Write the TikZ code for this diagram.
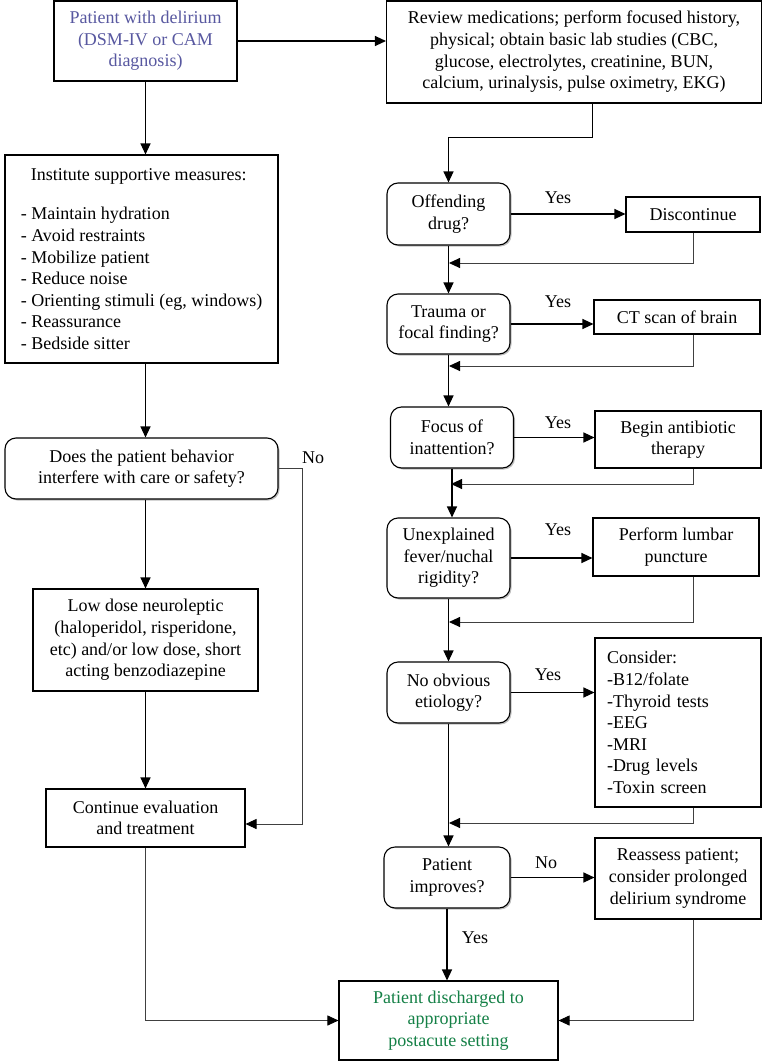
\documentclass[tikz,border=0pt]{standalone}
\usepackage{fontspec}
\setmainfont{Liberation Serif}
\usetikzlibrary{arrows.meta,shadows}
\definecolor{pblue}{RGB}{88,88,160}
\definecolor{pgreen}{RGB}{20,128,70}
\begin{document}
\begin{tikzpicture}[x=1pt,y=-1pt,
  font=\fontsize{18}{21.6}\selectfont,
  box/.style={draw, line width=1.1pt, align=center, inner sep=2pt, fill=white},
  dec/.style={box, rounded corners=11pt, drop shadow={shadow xshift=1.5pt, shadow yshift=-1.5pt, opacity=0.25, fill=black}},
  arr/.style={line width=1.2pt, -{Triangle[length=11pt,width=10pt]}},
  ln/.style={line width=0.9pt, draw=black!75, -{Triangle[length=11pt,width=10pt,color=black]}},
  lab/.style={inner sep=0pt}]
\useasboundingbox (0,0) rectangle (763,1062);
\fill[white] (0,0) rectangle (763,1062);

% left column
\node[box, text=pblue, minimum width=183pt, minimum height=80pt] (pat) at (145.5,41) {Patient with delirium\\(DSM-IV or CAM\\diagnosis)};
\node[box, minimum width=375pt, minimum height=102pt] (rev) at (574,52) {Review medications; perform focused history,\\physical; obtain basic lab studies (CBC,\\glucose, electrolytes, creatinine, BUN,\\calcium, urinalysis, pulse oximetry, EKG)};
\node[box, align=left, minimum width=273pt, minimum height=208pt] (sup) at (141.5,259) {\hspace*{10pt}Institute supportive measures:\\[18pt]- Maintain hydration\\- Avoid restraints\\- Mobilize patient\\- Reduce noise\\- Orienting stimuli (eg, windows)\\- Reassurance\\- Bedside sitter};
\node[dec, minimum width=273pt, minimum height=61pt] (does) at (141.5,468.5) {Does the patient behavior\\interfere with care or safety?};
\node[box, minimum width=225pt, minimum height=102pt] (low) at (145.5,640) {Low dose neuroleptic\\(haloperidol, risperidone,\\etc) and/or low dose, short\\acting benzodiazepine};
\node[box, minimum width=199pt, minimum height=58pt] (cont) at (145.5,818) {Continue evaluation\\and treatment};
\node[box, text=pgreen, minimum width=219pt, minimum height=79pt] (fin) at (448.5,1020.5) {Patient discharged to\\appropriate\\postacute setting};

% decisions
\node[dec, minimum width=123pt, minimum height=62pt] (off) at (448.5,214) {Offending\\drug?};
\node[dec, minimum width=123pt, minimum height=60pt] (tra) at (448.5,324) {Trauma or\\focal finding?};
\node[dec, minimum width=123pt, minimum height=61pt] (foc) at (452,437.5) {Focus of\\inattention?};
\node[dec, minimum width=123pt, minimum height=80pt] (une) at (448.5,558) {Unexplained\\fever/nuchal\\rigidity?};
\node[dec, minimum width=123pt, minimum height=61pt] (noe) at (448.5,692.5) {No obvious\\etiology?};
\node[dec, minimum width=126pt, minimum height=61pt] (imp) at (447,877.5) {Patient\\improves?};

% actions
\node[box, minimum width=134pt, minimum height=35pt] (dis) at (693,214.5) {Discontinue};
\node[box, minimum width=166pt, minimum height=34pt] (ct) at (677,317) {CT scan of brain};
\node[box, minimum width=166pt, minimum height=57pt] (abx) at (678,439.5) {Begin antibiotic\\therapy};
\node[box, minimum width=166pt, minimum height=58pt] (lp) at (676,547) {Perform lumbar\\puncture};
\node[box, align=left, text width=142pt, inner xsep=12pt, minimum height=169pt] (con) at (678,722.5) {Consider:\\-B12/folate\\-Thyroid tests\\-EEG\\-MRI\\-Drug levels\\-Toxin screen};
\node[box, minimum width=166pt, minimum height=81pt] (rea) at (678,878.5) {Reassess patient;\\consider prolonged\\delirium syndrome};

% labels
\node[lab] (l1) at (558,198) {Yes};
\node[lab] (l2) at (558,302) {Yes};
\node[lab] (l3) at (558,423) {Yes};
\node[lab] (l4) at (558,530) {Yes};
\node[lab] (l5) at (548,675) {Yes};
\node[lab] (l6) at (546,863) {No};
\node[lab] (l7) at (475,938) {Yes};
\node[lab] (l8) at (313,458) {No};

% left connectors
\draw[arr] (pat.east) -- (pat.east -| rev.west);
\draw[arr] (pat.south) -- (pat.south |- sup.north);
\draw[arr] (pat.south |- sup.south) -- (pat.south |- does.north);
\draw[arr] (pat.south |- does.south) -- (low.north);
\draw[arr] (low.south) -- (cont.north);
\draw[ln] (does.east) -- ++(24,0) |- ([yshift=-6pt]cont.east);
\draw[ln] (cont.south) |- (fin.west);

% right connectors
\draw[arr] ([xshift=18.5pt]rev.south) -- ++(0,34) -| (off.north);
\draw[arr] (off.east) -- (off.east -| dis.west);
\draw[arr] (tra.east) -- (tra.east -| ct.west);
\draw[arr] (foc.east) -- (foc.east -| abx.west);
\draw[arr] (une.east) -- (une.east -| lp.west);
\draw[arr] (noe.east) -- (noe.east -| con.west);
\draw[arr] (imp.east) -- (imp.east -| rea.west);

\draw[arr] (off.south) -- (tra.north);
\draw[arr] (tra.south) -- (tra.south |- foc.north);
\draw[arr] (foc.south) -- (foc.south |- une.north);
\draw[arr] (une.south) -- (noe.north);
\draw[arr] (noe.south) -- (noe.south |- imp.north);
\draw[arr] (imp.south) -- (imp.south |- fin.north);

% returns
\coordinate (rx) at (693,0);
\coordinate (r1) at (449,263);
\coordinate (r2) at (449,366);
\coordinate (r3) at (451,484);
\coordinate (r4) at (449,622);
\coordinate (r5) at (449,823);
\draw[ln] (dis.south) |- (r1);
\draw[ln] (rx |- ct.south) |- (r2);
\draw[ln] (rx |- abx.south) |- (r3);
\draw[ln] (rx |- lp.south) |- (r4);
\draw[ln] (rx |- con.south) |- (r5);
\draw[ln] (rx |- rea.south) |- (fin.east);
\end{tikzpicture}
\end{document}
